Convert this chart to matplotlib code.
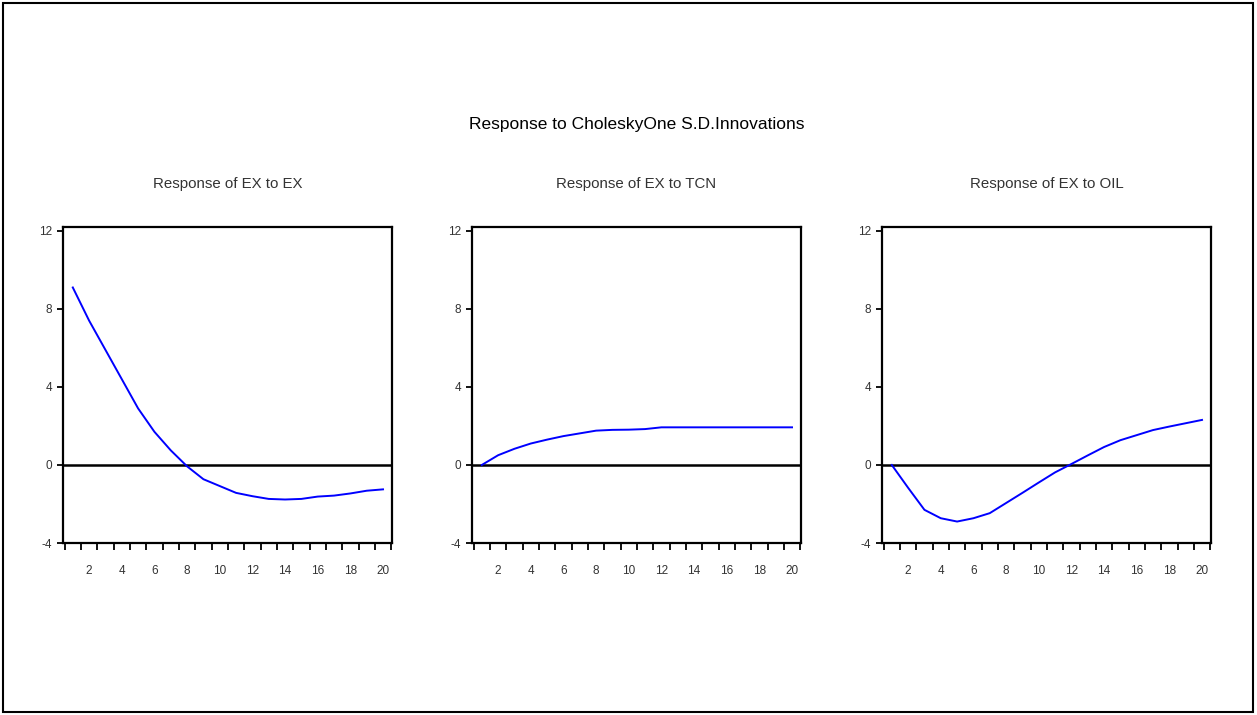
import matplotlib
matplotlib.use("Agg")
import matplotlib.pyplot as plt
from matplotlib.patches import Rectangle
import numpy as np

# Impulse responses (periods 1..20)
periods = np.arange(1, 21)
resp_ex = [9.1, 7.4, 5.9, 4.4, 2.9, 1.7, 0.75, -0.07, -0.73, -1.08,
           -1.43, -1.6, -1.74, -1.77, -1.74, -1.62, -1.57, -1.46, -1.32, -1.25]
resp_tcn = [0.0, 0.5, 0.83, 1.1, 1.3, 1.48, 1.62, 1.76, 1.8, 1.81,
            1.84, 1.93, 1.93, 1.93, 1.93, 1.93, 1.93, 1.93, 1.93, 1.93]
resp_oil = [0.0, -1.17, -2.3, -2.73, -2.9, -2.73, -2.47, -1.95, -1.43, -0.9,
            -0.38, 0.05, 0.49, 0.92, 1.27, 1.53, 1.79, 1.97, 2.14, 2.31]
titles = ["Response of EX to EX", "Response of EX to TCN", "Response of EX to OIL"]
yticks = [-4, 0, 4, 8, 12]
xlabels = [2, 4, 6, 8, 10, 12, 14, 16, 18, 20]

plt.rcParams['font.family'] = ['Liberation Sans', 'DejaVu Sans']

fig = plt.figure(figsize=(12.57, 7.15), dpi=100)
W, H = 1257, 715

# outer frame
fig.patches.append(Rectangle((3 / W, 3 / H), 1 - 7 / W, 1 - 6 / H, transform=fig.transFigure,
                             fill=False, edgecolor='black', linewidth=1.5))

fig.text(637 / W, 1 - 125 / H, "Response to CholeskyOne S.D.Innovations",
         ha='center', va='center', fontsize=12.5, color='black')

lefts = [63, 472, 882]
series = [resp_ex, resp_tcn, resp_oil]
for left, data, title in zip(lefts, series, titles):
    ax = fig.add_axes([left / W, 1 - 543 / H, 329 / W, (543 - 227) / H])
    ax.axhline(0, color='black', linewidth=1.8)
    ax.plot(periods, data, color='#0000ff', linewidth=1.4)
    ax.set_xlim(0.4, 20.55)
    ax.set_ylim(-4, 12.2)
    ax.set_yticks(yticks)
    ax.set_yticklabels([str(t) for t in yticks])
    ax.set_xticks(xlabels)
    ax.set_xticks(np.arange(0.5, 21, 1.0), minor=True)
    ax.tick_params(axis='x', which='major', length=0, pad=16, labelsize=8.5, colors='#333333')
    ax.tick_params(axis='x', which='minor', length=5, width=1.3, direction='out', color='black')
    ax.tick_params(axis='y', which='major', length=4, width=1.3, direction='out', pad=4,
                   labelsize=8.5, labelcolor='#333333', color='black')
    for s in ax.spines.values():
        s.set_linewidth(1.6)
    ax.set_title(title, fontsize=10.8, color='#333333', pad=28)

fig.savefig("out.png", dpi=100)
